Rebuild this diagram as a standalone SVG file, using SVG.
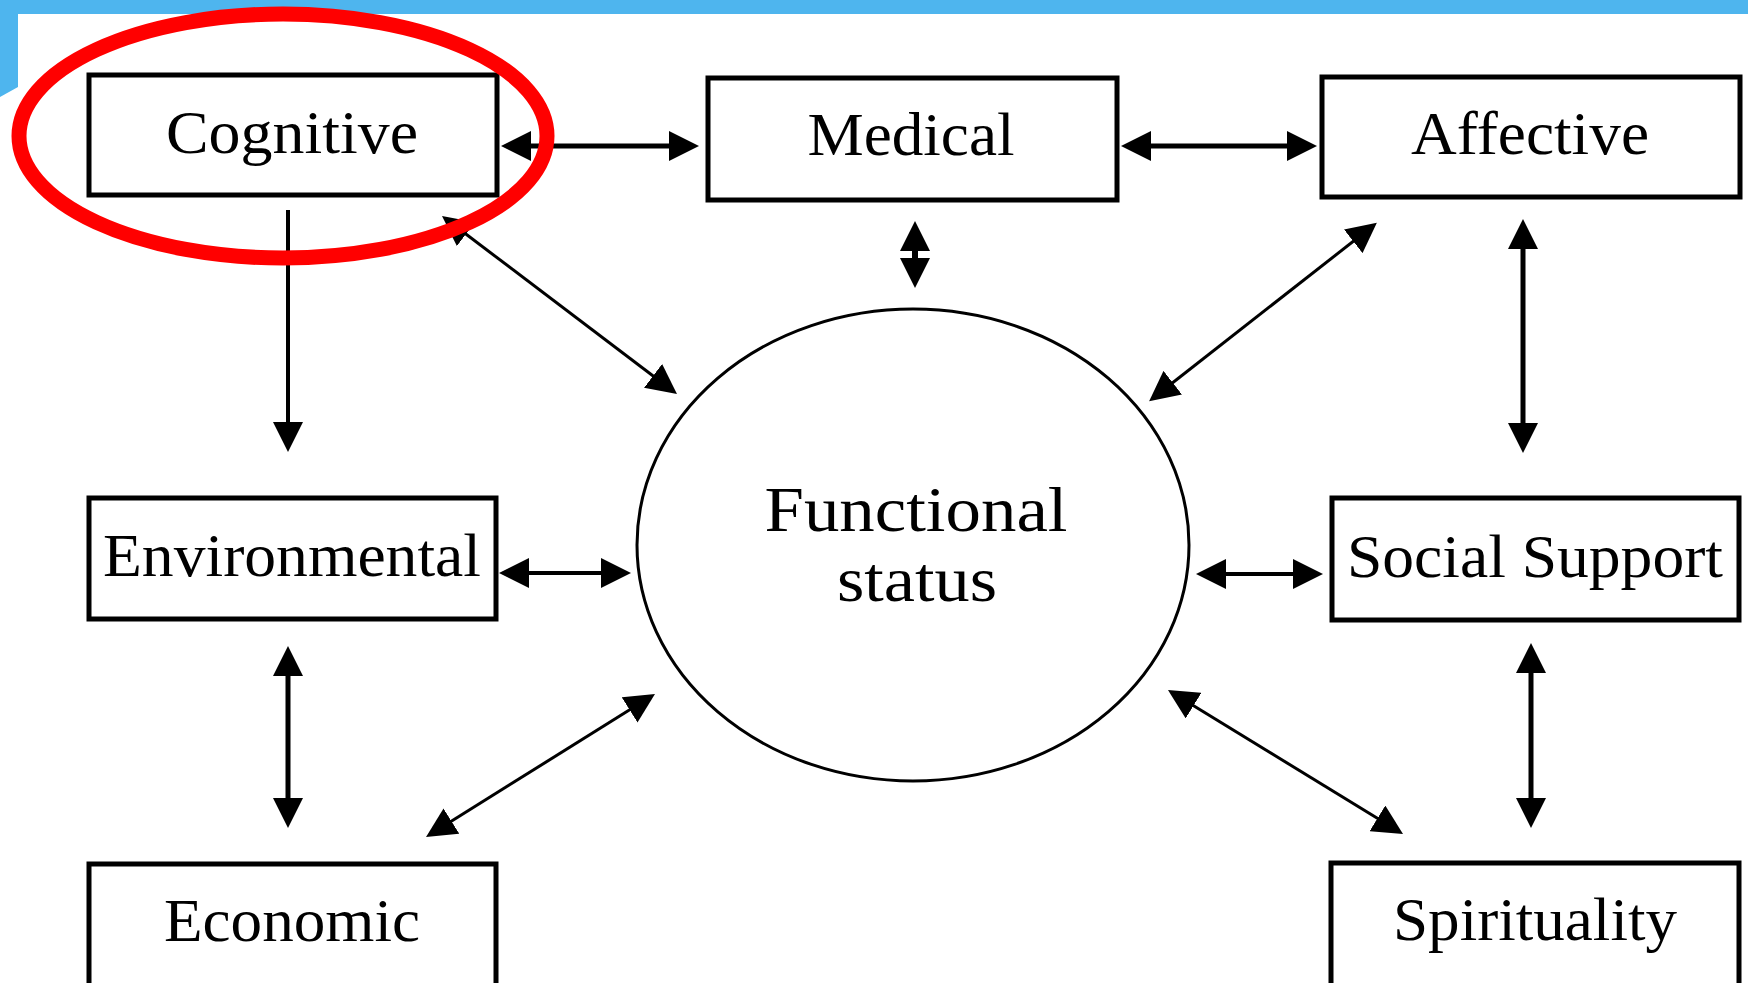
<svg xmlns="http://www.w3.org/2000/svg" width="1748" height="983" viewBox="0 0 1748 983">
<style>
.box{fill:#fff;stroke:#000;stroke-width:5}
.lbl{font-family:"Liberation Serif","Times New Roman",serif;font-size:61px;fill:#000;text-anchor:middle}
.c{fill:none;stroke:#000}
.thick{stroke-width:5}
.mid{stroke-width:4}
.thin{stroke-width:3}
</style>
<defs>
<marker id="ah" markerUnits="userSpaceOnUse" viewBox="0 0 30 30" refX="20" refY="15" markerWidth="30" markerHeight="30" orient="auto-start-reverse">
<path d="M0,0 L30,15 L0,30 z" fill="#000"/>
</marker>
</defs>
<rect width="1748" height="983" fill="#fff"/>
<g id="frame">
<rect x="0" y="0" width="1748" height="14" fill="#4eb5ee"/>
<polygon points="0,0 18,0 18,87 0,97" fill="#4eb5ee"/>
</g>
<g id="connectors">
<line class="c thick" x1="511" y1="146" x2="689" y2="146" marker-start="url(#ah)" marker-end="url(#ah)"/>
<line class="c thick" x1="1131" y1="146" x2="1307" y2="146" marker-start="url(#ah)" marker-end="url(#ah)"/>
<line class="c" stroke-width="6" x1="915" y1="231" x2="915" y2="278" marker-start="url(#ah)" marker-end="url(#ah)"/>
<line class="c thick" x1="1523" y1="229" x2="1523" y2="443" marker-start="url(#ah)" marker-end="url(#ah)"/>
<line class="c mid" x1="288" y1="210" x2="288" y2="442" marker-end="url(#ah)"/>
<line class="c thick" x1="288" y1="656" x2="288" y2="818" marker-start="url(#ah)" marker-end="url(#ah)"/>
<line class="c thick" x1="1531" y1="653" x2="1531" y2="818" marker-start="url(#ah)" marker-end="url(#ah)"/>
<line class="c mid" x1="509" y1="573" x2="621" y2="573" marker-start="url(#ah)" marker-end="url(#ah)"/>
<line class="c mid" x1="1206" y1="574" x2="1313" y2="574" marker-start="url(#ah)" marker-end="url(#ah)"/>
<line class="c thin" x1="450" y1="222" x2="669" y2="388" marker-start="url(#ah)" marker-end="url(#ah)"/>
<line class="c thin" x1="1369" y1="229" x2="1157" y2="395" marker-start="url(#ah)" marker-end="url(#ah)"/>
<line class="c thin" x1="434.5" y1="831.7" x2="646.5" y2="699.3" marker-start="url(#ah)" marker-end="url(#ah)"/>
<line class="c thin" x1="1176.5" y1="695.2" x2="1394.5" y2="828.8" marker-start="url(#ah)" marker-end="url(#ah)"/>
</g>
<g id="cognitive">
<rect class="box" x="89" y="75" width="408" height="120"/>
<text class="lbl" x="292" y="153" textLength="252" lengthAdjust="spacingAndGlyphs">Cognitive</text>
</g>
<g id="medical">
<rect class="box" x="708" y="78" width="409" height="122"/>
<text class="lbl" x="911" y="155" textLength="207" lengthAdjust="spacingAndGlyphs">Medical</text>
</g>
<g id="affective">
<rect class="box" x="1322" y="77" width="418" height="120"/>
<text class="lbl" x="1530" y="154" textLength="238" lengthAdjust="spacingAndGlyphs">Affective</text>
</g>
<g id="environmental">
<rect class="box" x="89" y="498" width="407" height="121"/>
<text class="lbl" x="292" y="576" textLength="378" lengthAdjust="spacingAndGlyphs">Environmental</text>
</g>
<g id="social-support">
<rect class="box" x="1332" y="498" width="407" height="122"/>
<text class="lbl" x="1535" y="577" textLength="376" lengthAdjust="spacingAndGlyphs">Social Support</text>
</g>
<g id="economic">
<rect class="box" x="89" y="864" width="407" height="200"/>
<text class="lbl" x="292" y="941" textLength="256" lengthAdjust="spacingAndGlyphs">Economic</text>
</g>
<g id="spirituality">
<rect class="box" x="1331" y="863" width="408" height="200"/>
<text class="lbl" x="1535" y="940" textLength="284" lengthAdjust="spacingAndGlyphs">Spirituality</text>
</g>
<g id="functional-status">
<ellipse cx="913" cy="545" rx="276" ry="236" fill="#fff" stroke="#000" stroke-width="3"/>
<text class="lbl" style="font-size:64px" x="916" y="531" textLength="303" lengthAdjust="spacingAndGlyphs">Functional</text>
<text class="lbl" style="font-size:64px" x="917" y="601" textLength="160" lengthAdjust="spacingAndGlyphs">status</text>
</g>
<g id="highlight">
<ellipse cx="283" cy="136" rx="264" ry="122" fill="none" stroke="#ff0000" stroke-width="15"/>
</g>
</svg>
